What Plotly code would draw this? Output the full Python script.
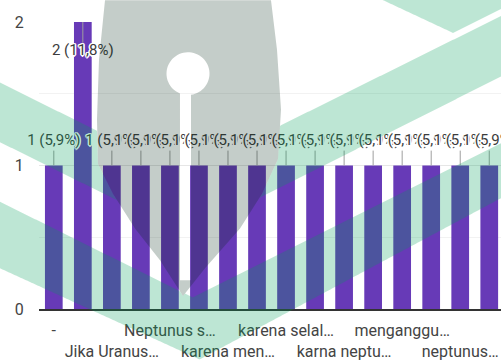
import numpy as np
import plotly.graph_objects as go

# ---------------- data ----------------
categories = ["-", "Gravitasi…", "Jika Uranus…", "Karena…", "Neptunus s…", "Uranus…",
              "karena men…", "karena orbit…", "karena selal…", "karena tarik…",
              "karna neptu…", "karna orbit…", "menganggu…", "mengubah…", "neptunus…", "orbit…"]
counts = [1, 2, 1, 1, 1, 1, 1, 1, 1, 1, 1, 1, 1, 1, 1, 1]
y_ticks = [0, 1, 2]

# ---------------- geometry / style ----------------
FIG_W, FIG_H = 501, 361
M_L, M_R, M_T, M_B = 39, 0, 22, 50
PLOT_W = FIG_W - M_L - M_R
PLOT_H = FIG_H - M_T - M_B
CAT_PX = 29.03
X0 = -0.51
Y_MAX = 2
PX_PER_UNIT = PLOT_H / Y_MAX

BAR_COLOR = "#673ab7"
TEXT_COLOR = "#444444"
FONT = "Roboto"

total = sum(counts)
labels = [f"{c} ({c / total * 100:.1f}%)".replace(".", ",") for c in counts]

# label positions (label above the bar, or inside when it would leave the chart)
lab_x, lab_y, lead_x, lead_y = [], [], [], []
for cat, v in zip(categories, counts):
    above = v + 24 / PX_PER_UNIT
    if above + 10 / PX_PER_UNIT > Y_MAX:
        lab_y.append(v - 29.5 / PX_PER_UNIT)
        lead_x += [cat, cat, None]
        lead_y += [v, v - 21 / PX_PER_UNIT, None]
    else:
        lab_y.append(above)
        lead_x += [cat, cat, None]
        lead_y += [v, v + 15 / PX_PER_UNIT, None]
    lab_x.append(cat)

halo = ", ".join(f"{dx}px {dy}px 0 #fff" for dx, dy in
                 [(1.5, 0), (-1.5, 0), (0, 1.5), (0, -1.5), (1, 1), (-1, -1), (1, -1), (-1, 1)])

fig = go.Figure()
fig.add_trace(go.Bar(x=categories, y=counts, marker_color=BAR_COLOR,
                     marker_line_width=0, hoverinfo="skip"))
fig.add_trace(go.Scatter(x=lead_x, y=lead_y, mode="lines",
                         line=dict(color="#9e9e9e", width=1), cliponaxis=False,
                         hoverinfo="skip"))
fig.add_trace(go.Scatter(x=lab_x, y=lab_y, mode="text", text=labels,
                         textposition="middle center", cliponaxis=False,
                         textfont=dict(family=FONT, size=15, color="#3c3c3c", shadow=halo),
                         hoverinfo="skip"))

tickvals = categories[::2]
ticktext = [c if k % 2 == 0 else "<br>" + c for k, c in enumerate(tickvals)]

# ---------------- watermark (decoration) ----------------
def P(px, py):
    return (px - M_L) / PLOT_W, 1 - (py - M_T) / PLOT_H

def poly(points):
    s = ""
    for i, (px, py) in enumerate(points):
        x, y = P(px, py)
        s += ("M" if i == 0 else "L") + f"{x:.5f},{y:.5f}"
    return s + "Z"

nib_left = [(105, 0), (99, 60), (97, 120), (98, 165), (113, 195), (135, 230), (160, 262), (183, 298)]
nib_right = [(205, 270), (240, 230), (262, 195), (278, 160), (281, 110), (277, 50), (271, 0)]
nib_outline = nib_left + nib_right
chain = [(97, 120), (98, 165), (113, 195), (135, 230), (160, 262), (183, 298),
         (205, 270), (240, 230), (262, 195), (278, 160), (281, 110)]
cx_, cy_ = np.array(chain).T

def nib_bottom(xs):
    return np.where((xs >= 97) & (xs <= 281), np.interp(xs, cx_, cy_), -1e9)

# keyhole (circle + slit)
cc, cr = (188, 74), 21.5
th = np.linspace(np.deg2rad(111.9), np.deg2rad(442.0), 60)
key = [(180, 282)] + [(cc[0] + cr * np.cos(t), cc[1] + cr * np.sin(t)) for t in th] + [(191, 282)]
nib_path = poly(nib_outline) + poly(key)

def band(U, L):
    xs = np.arange(0, 502, 1.0)
    tops = np.maximum(U(xs), nib_bottom(xs))
    bots = L(xs)
    ok = tops < bots
    path, seg = "", []
    for x, t, b, v in zip(xs, tops, bots, ok):
        if v:
            seg.append((x, t, b))
        elif seg:
            path += poly([(a, t_) for a, t_, _ in seg] + [(a, b_) for a, _, b_ in seg[::-1]])
            seg = []
    if seg:
        path += poly([(a, t_) for a, t_, _ in seg] + [(a, b_) for a, _, b_ in seg[::-1]])
    return path

green = ""
green += band(lambda x: np.minimum(83 + 0.5 * x, 266.5 - 0.5 * x),
              lambda x: np.minimum(143 + 0.5 * x, 330.4 - 0.506 * x))
green += band(lambda x: np.minimum(203 + 0.5 * x, 396.2 - 0.503 * x),
              lambda x: np.minimum(270 + 0.46 * x, 469.4 - 0.539 * x))
green += band(lambda x: np.full_like(x, -5.0),
              lambda x: np.minimum(0.471 * (x - 383), 33 - 0.5 * (x - 453)))

shapes = [
    dict(type="path", path=green, xref="paper", yref="paper",
         fillcolor="rgba(0,159,90,0.26)", line=dict(width=0), layer="above"),
    dict(type="path", path=nib_path, xref="paper", yref="paper", fillrule="evenodd",
         fillcolor="rgba(0,39,21,0.23)", line=dict(width=0), layer="above"),
]

fig.update_layout(
    width=FIG_W, height=FIG_H,
    margin=dict(l=M_L, r=M_R, t=M_T, b=M_B, pad=0),
    paper_bgcolor="white", plot_bgcolor="white",
    showlegend=False, bargap=0.39,
    font=dict(family=FONT, color=TEXT_COLOR),
    shapes=shapes,
    xaxis=dict(type="category", range=[X0, X0 + PLOT_W / CAT_PX],
               tickvals=tickvals, ticktext=ticktext, tickangle=0,
               tickfont=dict(family=FONT, size=16, color=TEXT_COLOR),
               ticks="outside", ticklen=6, tickcolor="rgba(0,0,0,0)",
               showline=True, linecolor="#333333", linewidth=1.5,
               showgrid=False, zeroline=False, fixedrange=True),
    yaxis=dict(range=[0, Y_MAX], tickvals=y_ticks,
               tickfont=dict(family=FONT, size=16, color=TEXT_COLOR),
               ticks="outside", ticklen=11, tickcolor="rgba(0,0,0,0)",
               showgrid=True, gridcolor="#e6e6e6", gridwidth=1,
               minor=dict(dtick=0.5, showgrid=True, gridcolor="#f2f2f2"),
               zeroline=False, showline=False, fixedrange=True),
)

fig.write_html("out.html")
